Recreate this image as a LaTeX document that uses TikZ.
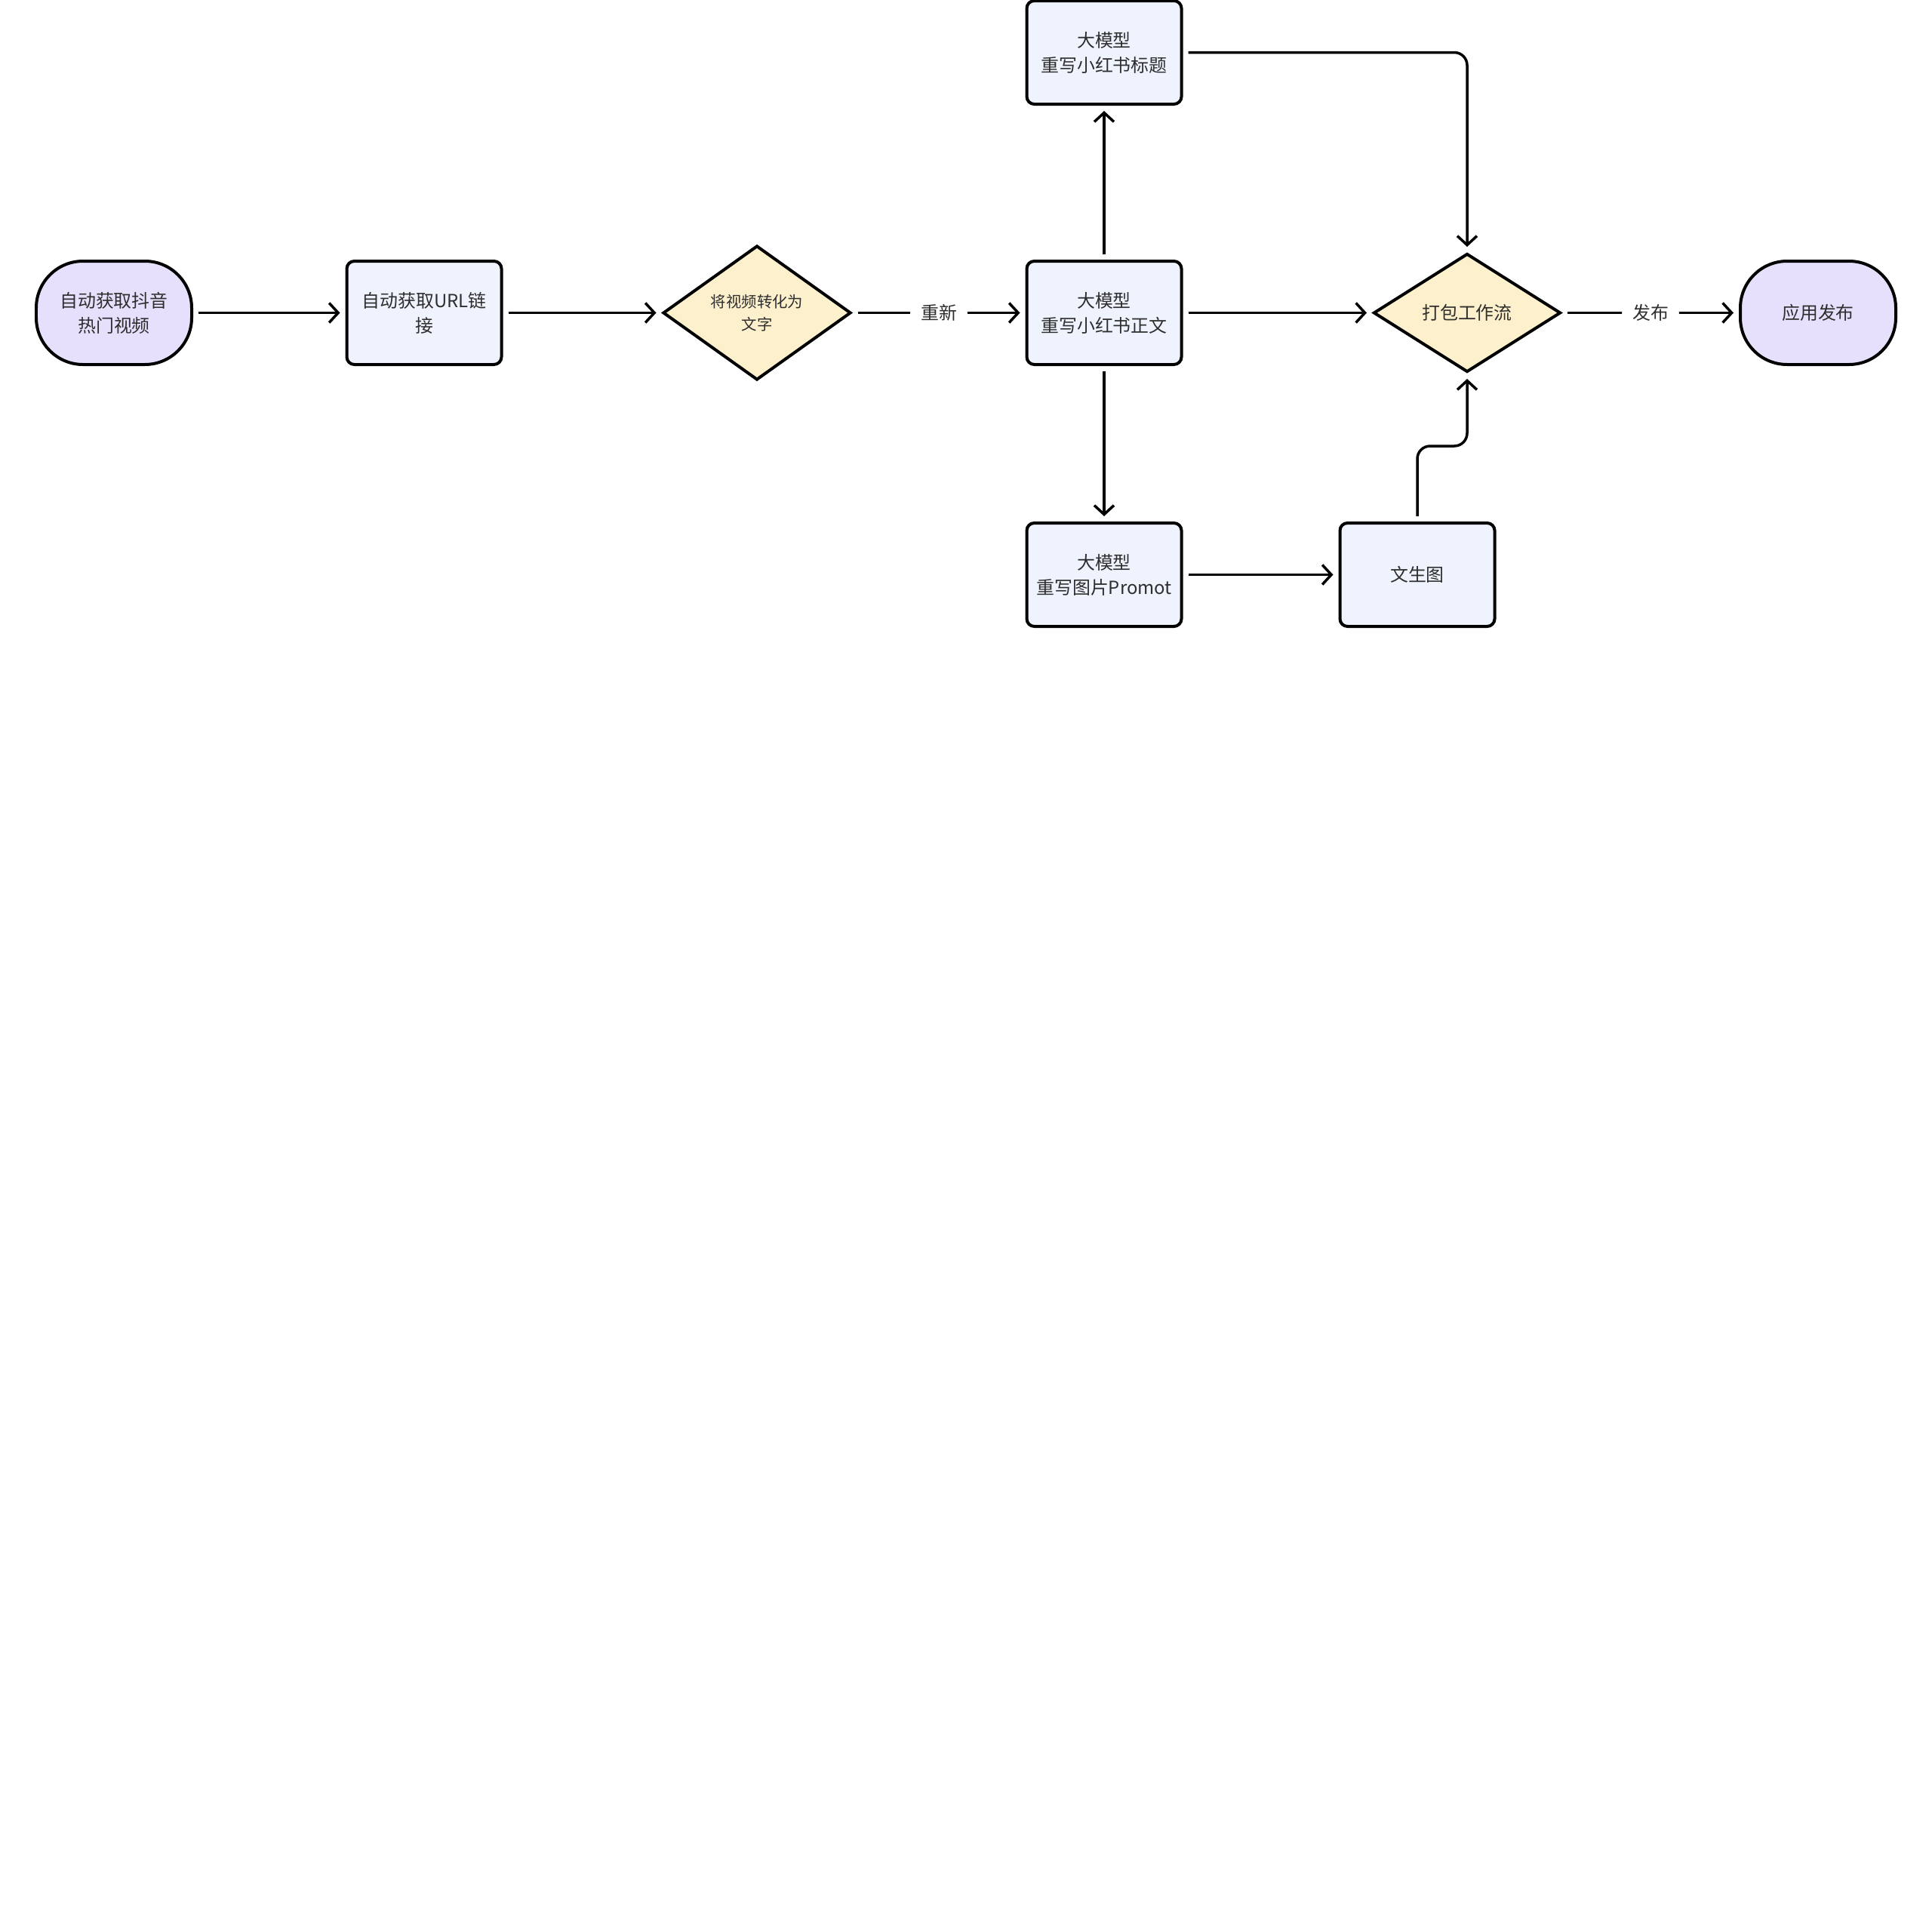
\documentclass[tikz,border=0pt]{standalone}
\usepackage{fontspec}
\setmainfont{Noto Sans CJK SC}
\usepackage{tikz}
\usetikzlibrary{arrows.meta, shapes.geometric}
\definecolor{termfill}{HTML}{E7E0FC}
\definecolor{boxfill}{HTML}{EEF3FD}
\definecolor{decfill}{HTML}{FDF0CC}
\definecolor{textgray}{HTML}{2E2E2E}

\begin{document}
\begin{tikzpicture}[
    every node/.style={text=textgray, font=\fontsize{6.8pt}{9.4pt}\selectfont, align=center},
    terminal/.style={draw, line width=0.04cm, fill=termfill, minimum width=2.06cm, minimum height=1.37cm, rounded corners=0.62cm, inner sep=0pt},
    stepbox/.style={draw, line width=0.04cm, fill=boxfill, minimum width=2.05cm, minimum height=1.37cm, rounded corners=0.1cm, inner sep=0pt},
    decision/.style={draw, line width=0.04cm, fill=decfill, diamond, aspect=1.4, inner sep=0pt},
    flow/.style={draw, line width=0.035cm, -{Straight Barb[length=0.12cm, width=0.26cm]}, shorten <=0.07cm, shorten >=0.07cm, rounded corners=0.17cm},
    tag/.style={fill=white, inner xsep=0.14cm, inner ysep=0.05cm}
  ]
    % Page size
    \useasboundingbox (0,0) rectangle (25.6,-25.6);

    % Main row
    \node[terminal] (start) at (1.51,-4.145) {自动获取抖音\\热门视频};
    \node[stepbox] (url) at (5.62,-4.145) {自动获取URL链\\接};
    \node[decision, minimum width=2.49cm, minimum height=1.78cm,
          font=\fontsize{5.8pt}{8.5pt}\selectfont] (convert) at (10.03,-4.145) {将视频转化为\\文字};
    \node[stepbox] (body) at (14.63,-4.145) {大模型\\重写小红书正文};
    \node[decision, minimum width=2.48cm, minimum height=1.57cm] (pack) at (19.44,-4.145) {打包工作流};
    \node[terminal] (publish) at (24.09,-4.145) {应用发布};

    % Upper and lower branches
    \node[stepbox] (title) at (14.63,-0.695) {大模型\\重写小红书标题};
    \node[stepbox] (prompt) at (14.63,-7.615) {大模型\\重写图片Promot};
    \node[stepbox] (image) at (18.78,-7.615) {文生图};

    % Connectors
    \draw[flow] (start) -- (url);
    \draw[flow] (url) -- (convert);
    \draw[flow] (convert) -- node[tag] {重新} (body);
    \draw[flow] (body) -- (title);
    \draw[flow] (body) -- (prompt);
    \draw[flow] (body) -- (pack);
    \draw[flow] (title.east) -| (pack.north);
    \draw[flow] (prompt) -- (image);
    \draw[flow] (image.north) -- ++(0,1.0) -| (pack.south);
    \draw[flow] (pack) -- node[tag] {发布} (publish);
\end{tikzpicture}
\end{document}
